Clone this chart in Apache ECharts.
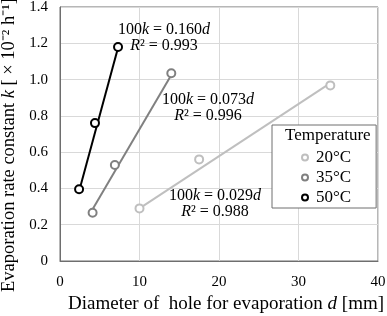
<!DOCTYPE html>
<html>
<head>
<meta charset="utf-8">
<script src="https://cdn.jsdelivr.net/npm/echarts@6/dist/echarts.min.js"></script>
<style>
  html, body { margin: 0; padding: 0; background: #fff; }
  #chart { width: 387px; height: 316px; }
</style>
</head>
<body>
<div id="chart"></div>
<script>
// measured points, d [mm] vs 100k
const temps = ['20°C', '35°C', '50°C']
const colors = ['#bfbfbf', '#808080', '#000000']
const points20 = [[10.0, 0.29], [17.5, 0.56], [34.0, 0.968]]
const points35 = [[4.1, 0.266], [6.9, 0.529], [14.0, 1.035]]
const points50 = [[2.4, 0.395], [4.4, 0.76], [7.3, 1.18]]
// trend line ends
const fit20 = [[10.0, 0.29], [34.0, 0.98]]
const fit35 = [[4.1, 0.285], [14.0, 1.025]]
const fit50 = [[2.4, 0.385], [7.3, 1.175]]
const fitText = [
  ['0.029', '0.988'],
  ['0.073', '0.996'],
  ['0.160', '0.993']
]

const serif = 'Liberation Serif'
const points = [points20, points35, points50]
const fits = [fit20, fit35, fit50]
const labelPos = [[215, 204], [208, 108], [164, 38]]

const chart = echarts.init(document.getElementById('chart'))

const series = []
fits.forEach((f, i) => {
  series.push({
    type: 'line',
    data: f,
    symbol: 'none',
    silent: true,
    lineStyle: { color: colors[i], width: 2 },
    z: 2
  })
})
points.forEach((p, i) => {
  series.push({
    name: temps[i],
    type: 'scatter',
    data: p,
    symbol: 'circle',
    symbolSize: 8,
    itemStyle: { color: '#fff', borderColor: colors[i], borderWidth: 2, opacity: 1 },
    z: 3
  })
})

const graphics = fitText.map((t, i) => ({
  type: 'text',
  x: labelPos[i][0],
  y: labelPos[i][1],
  style: {
    text: '{n|100}{i|k}{n| = ' + t[0] + '}{i|d}\n{i|R}{n|² = ' + t[1] + '}',
    align: 'center',
    verticalAlign: 'middle',
    fill: '#000',
    rich: {
      n: { fontFamily: serif, fontSize: 16, lineHeight: 16, color: '#000' },
      i: { fontFamily: serif, fontSize: 16, lineHeight: 16, fontStyle: 'italic', color: '#000' }
    }
  },
  z: 10
}))

chart.setOption({
  animation: false,
  textStyle: { fontFamily: serif },
  grid: {
    left: 60,
    right: 9,
    top: 7,
    bottom: 55,
    outerBoundsMode: 'none',
    containLabel: false,
    show: true,
    borderColor: '#6e6e6e',
    borderWidth: 1
  },
  title: {
    text: 'Temperature',
    left: 285,
    top: 127,
    padding: 0,
    textStyle: { fontFamily: serif, fontSize: 17, fontWeight: 'normal', color: '#000' }
  },
  legend: {
    data: temps,
    orient: 'vertical',
    left: 272,
    top: 125,
    padding: [24, 25, 2, 29],
    itemGap: 3,
    itemWidth: 6,
    itemHeight: 6,
    borderColor: '#6e6e6e',
    borderWidth: 1,
    backgroundColor: '#fff',
    textStyle: { fontFamily: serif, fontSize: 17, color: '#000', padding: [0, 0, 0, 3] }
  },
  xAxis: {
    type: 'value',
    min: 0,
    max: 40,
    interval: 10,
    name: 'Diameter of  hole for evaporation {i|d} [mm]',
    nameLocation: 'middle',
    nameGap: 33,
    nameTextStyle: {
      fontFamily: serif, fontSize: 19, color: '#000', padding: [0, 0, 0, 14],
      rich: { i: { fontFamily: serif, fontSize: 19, fontStyle: 'italic', color: '#000' } }
    },
    axisLine: { show: true, lineStyle: { color: '#6e6e6e' } },
    axisTick: { show: false },
    axisLabel: { fontFamily: serif, fontSize: 15, color: '#000', margin: 14 },
    splitLine: { lineStyle: { color: '#d9d9d9' } }
  },
  yAxis: {
    type: 'value',
    min: 0,
    max: 1.4,
    interval: 0.2,
    name: 'Evaporation rate constant {i|k} [ × 10⁻² h⁻¹]',
    nameLocation: 'middle',
    nameGap: 38,
    nameTextStyle: {
      fontFamily: serif, fontSize: 18.5, color: '#000', padding: [0, 22, 0, 0],
      rich: { i: { fontFamily: serif, fontSize: 18.5, fontStyle: 'italic', color: '#000' } }
    },
    axisLine: { show: true, lineStyle: { color: '#6e6e6e' } },
    axisTick: { show: false },
    axisLabel: {
      fontFamily: serif, fontSize: 15, color: '#000', margin: 12,
      formatter: v => (v === 0 ? '0' : v.toFixed(1))
    },
    splitLine: { lineStyle: { color: '#d9d9d9' } }
  },
  graphic: graphics,
  series: series
})
</script>
</body>
</html>
